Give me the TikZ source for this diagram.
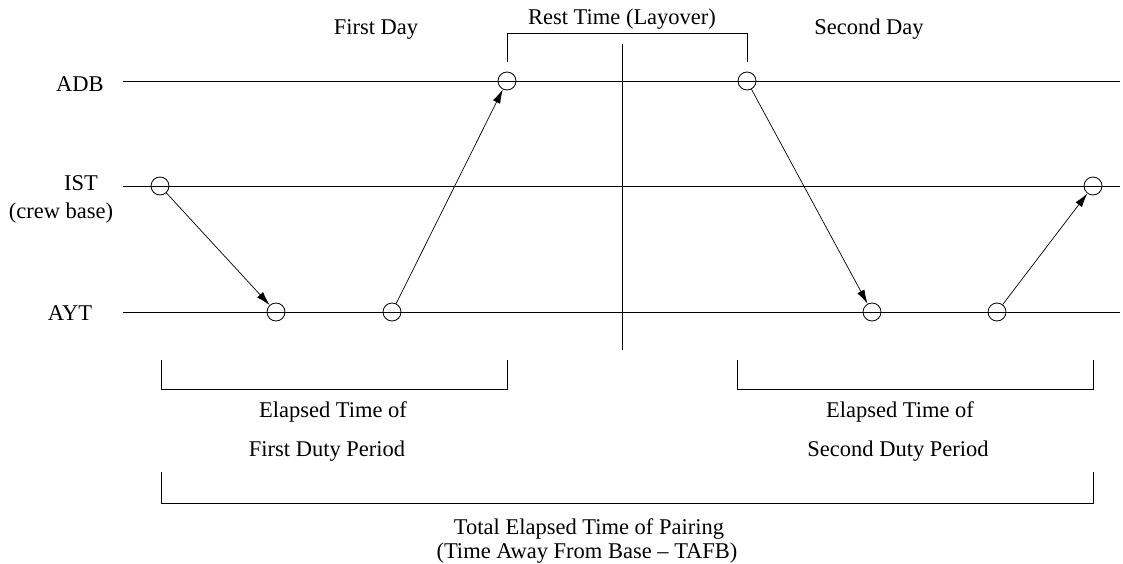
\documentclass[tikz,border=0pt]{standalone}
\usepackage{fontspec}
\setmainfont{Liberation Serif}
\usetikzlibrary{arrows.meta}
\begin{document}
\begin{tikzpicture}[x=1pt,y=-1pt,
  lbl/.style={anchor=base,inner sep=0pt,font=\fontsize{22.5pt}{27pt}\selectfont},
  stop/.style={circle,draw,line width=0.8pt,minimum size=18pt,inner sep=0pt},
  ln/.style={line width=0.8pt},
  flight/.style={line width=0.7pt,-{Latex[length=14pt,width=8pt]}}]
\useasboundingbox (0,0) rectangle (1123,564);
% airport lines
\coordinate (adbL) at (123,81);  \coordinate (adbR) at (1120,81);
\coordinate (istL) at (123,186); \coordinate (istR) at (1120,186);
\coordinate (aytL) at (123,312); \coordinate (aytR) at (1120,312);
\draw[ln] (adbL) -- (adbR);
\draw[ln] (istL) -- (istR);
\draw[ln] (aytL) -- (aytR);
% day separator
\coordinate (sepT) at (622,44); \coordinate (sepB) at (622,350);
\draw[ln] (sepT) -- (sepB);
% labels
\node[lbl] (tADB) at (80,92) {ADB};
\node[lbl] (tIST) at (81,190) {IST};
\node[lbl] (tCrew) at (61,218) {(crew base)};
\node[lbl] (tAYT) at (70,320) {AYT};
\node[lbl] (tDay1) at (376,35) {First Day};
\node[lbl] (tDay2) at (869,35) {Second Day};
\node[lbl] (tRest) at (622,25) {Rest Time (Layover)};
% stops
\node[stop] (s1) at (160,186) {};
\node[stop] (s2) at (276,312) {};
\node[stop] (s3) at (392,312) {};
\node[stop] (s4) at (507,81) {};
\node[stop] (s5) at (747,81) {};
\node[stop] (s6) at (872,312) {};
\node[stop] (s7) at (997,312) {};
\node[stop] (s8) at (1093,186) {};
% flights
\draw[flight] (s1) -- (s2);
\draw[flight] (s3) -- (s4);
\draw[flight] (s5) -- (s6);
\draw[flight] (s7) -- (s8);
% rest bracket
\draw[ln] (507,62) -- (507,33) -- (747,33) -- (747,62);
% duty brackets
\draw[ln] (161,360) -- (161,389) -- (507,389) -- (507,360);
\draw[ln] (737,360) -- (737,389) -- (1093,389) -- (1093,360);
\node[lbl] (e1a) at (333,417) {Elapsed Time of};
\node[lbl] (e1b) at (327,456) {First Duty Period};
\node[lbl] (e2a) at (900,417) {Elapsed Time of};
\node[lbl] (e2b) at (898,456) {Second Duty Period};
% total bracket
\draw[ln] (161,472) -- (161,503) -- (1093,503) -- (1093,472);
\node[lbl] (tot1) at (589,534) {Total Elapsed Time of Pairing};
\node[lbl] (tot2) at (587,558) {(Time Away From Base – TAFB)};
\end{tikzpicture}
\end{document}
